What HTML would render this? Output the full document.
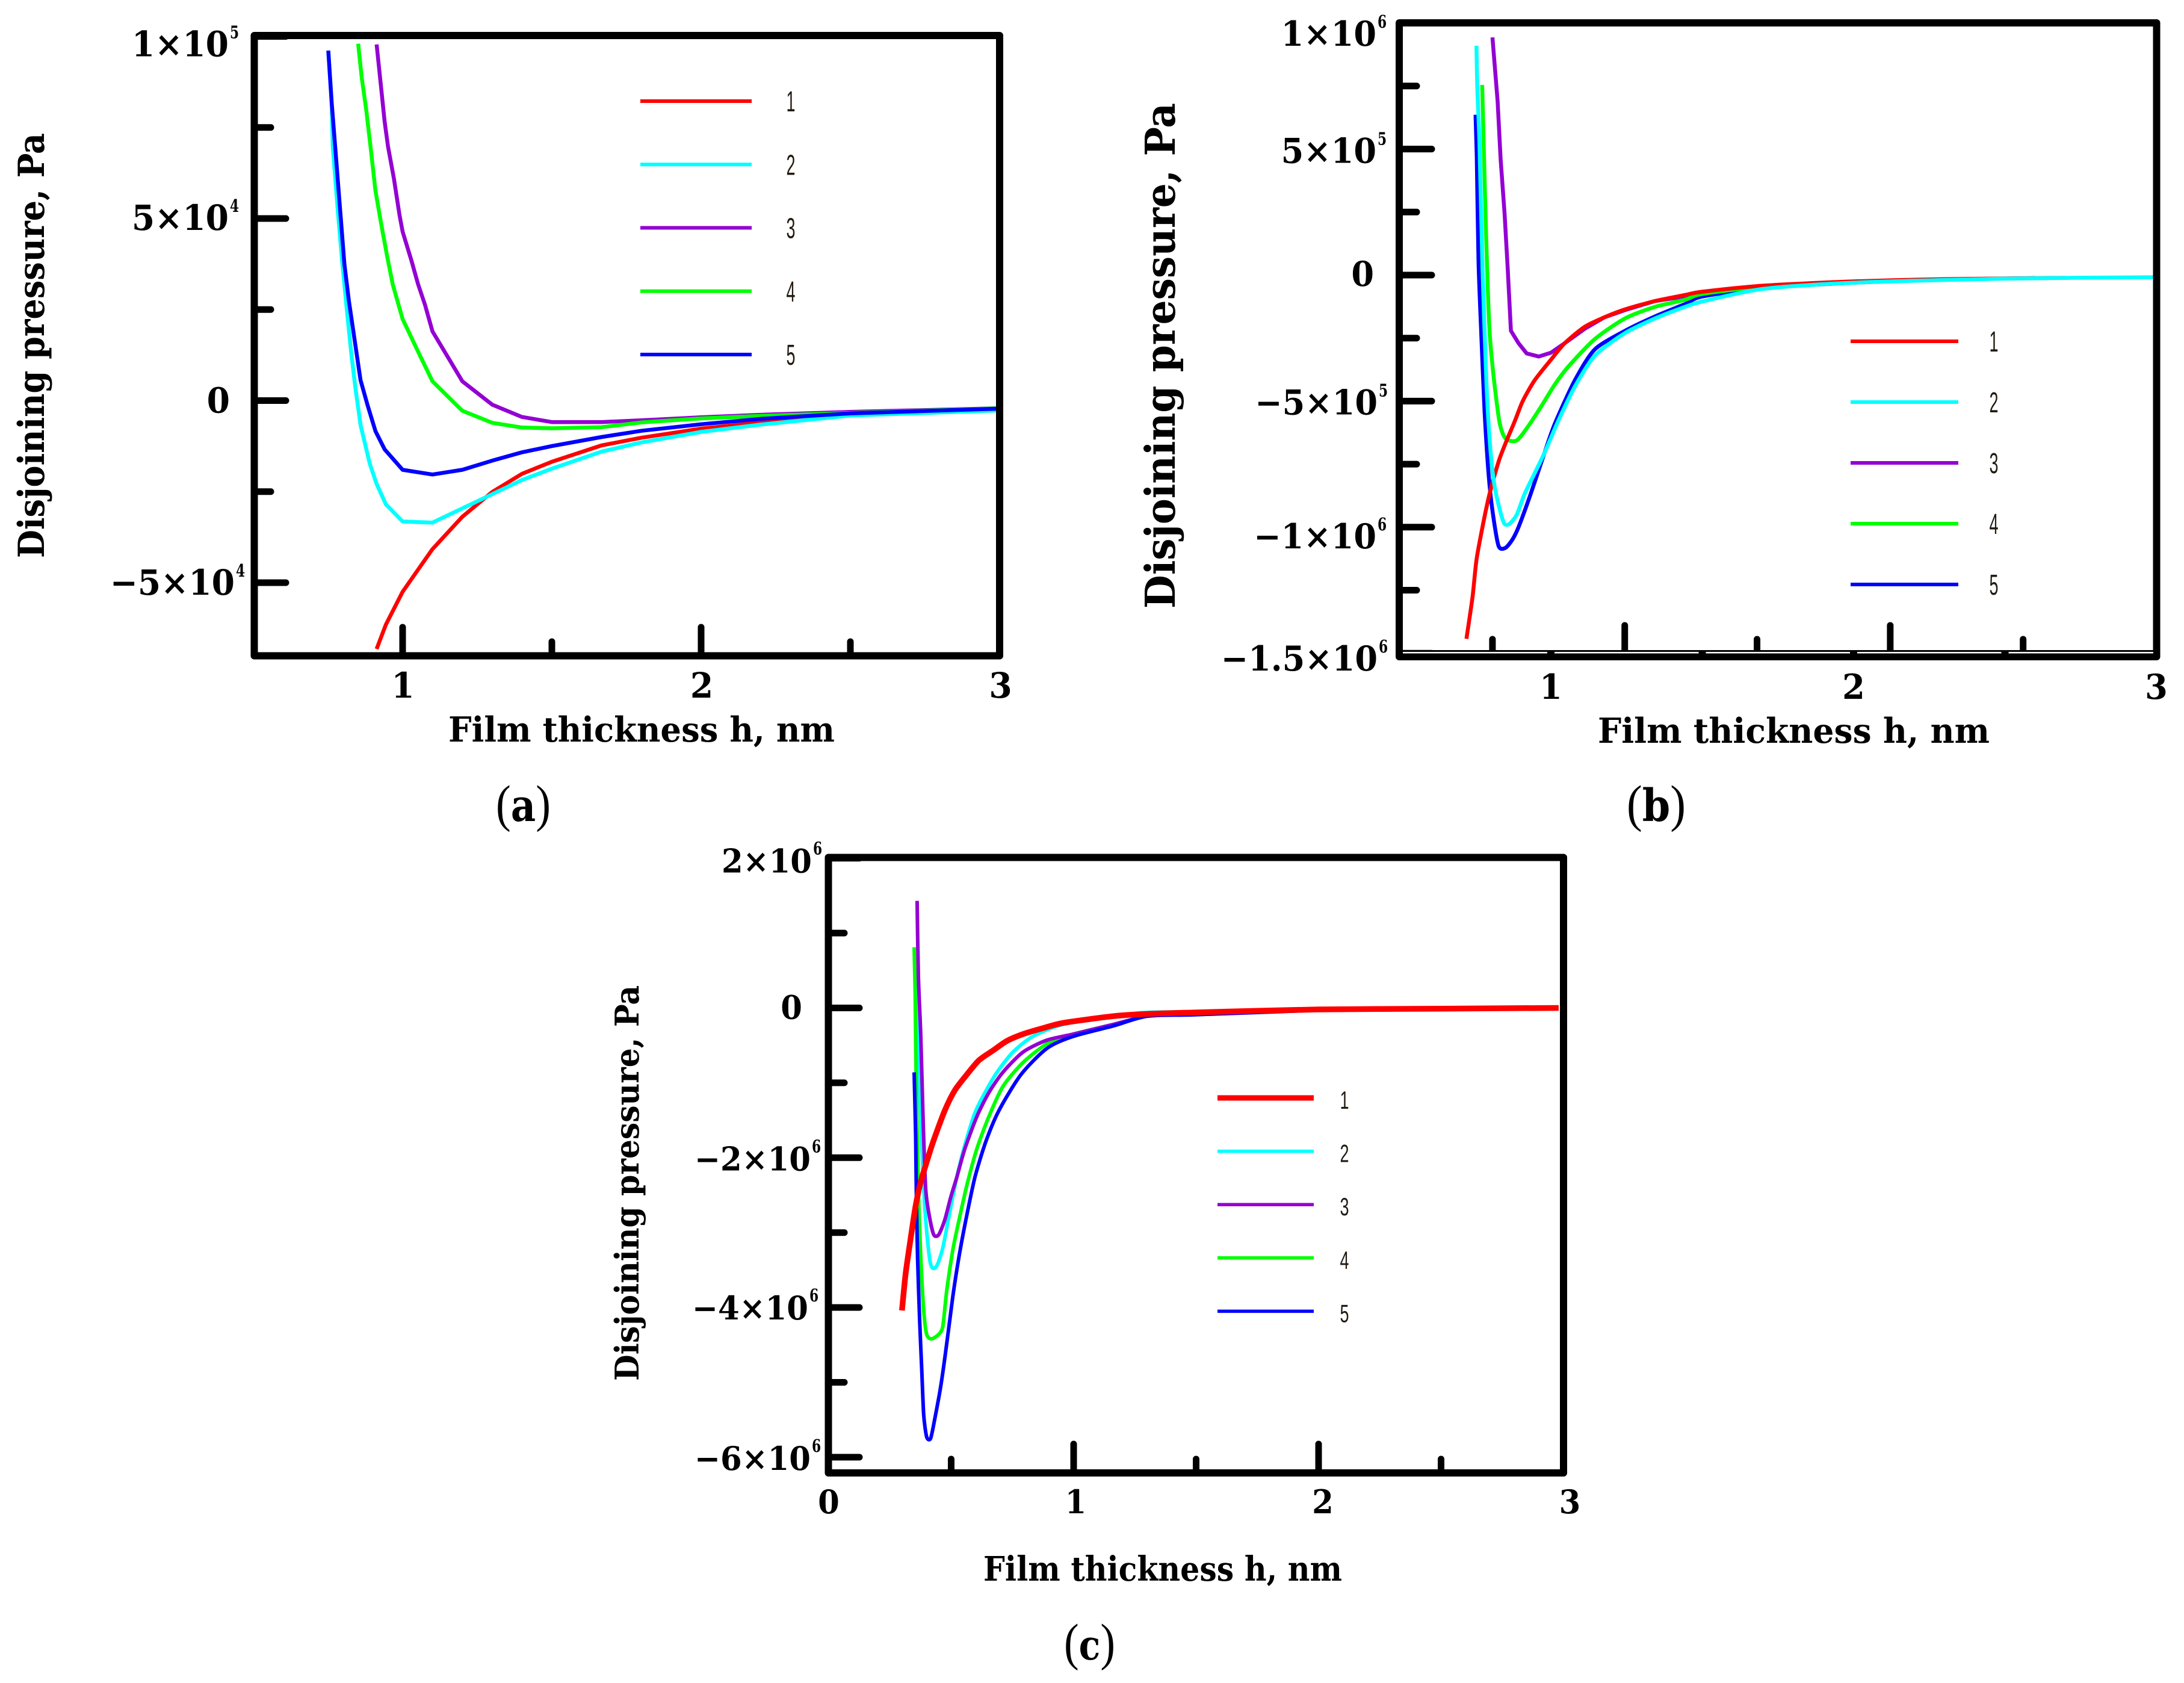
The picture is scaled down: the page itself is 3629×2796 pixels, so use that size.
<!DOCTYPE html>
<html lang="en">
<head>
<meta charset="utf-8">
<title>Disjoining pressure vs film thickness</title>
<style>
html,body{margin:0;padding:0;background:#fff;}
svg{display:block;}
text{font-family:"DejaVu Serif","Liberation Serif",serif;font-weight:bold;fill:#000;}
.cap{font-family:"Liberation Serif",serif;font-weight:normal;}
.cap tspan{font-weight:bold;font-family:"DejaVu Serif",serif;}
</style>
</head>
<body>
<svg id="figure" xmlns="http://www.w3.org/2000/svg" width="3629" height="2796" viewBox="0 0 3629 2796">
<rect width="3629" height="2796" fill="#fff"/>

<g id="panel-a">
  <text x="745" y="1232" font-size="57" textLength="642" lengthAdjust="spacingAndGlyphs">Film thickness h, nm</text>
  <text transform="translate(73,927) rotate(-90)" font-size="60" textLength="706" lengthAdjust="spacingAndGlyphs">Disjoining pressure, Pa</text>
  <text class="cap" x="824" y="1364" font-size="86" textLength="91" lengthAdjust="spacingAndGlyphs">(<tspan font-size="74">a</tspan>)</text>
</g>
<g id="panel-b">
  <text x="2655" y="1234" font-size="57" textLength="651" lengthAdjust="spacingAndGlyphs">Film thickness h, nm</text>
  <text transform="translate(1952,1011) rotate(-90)" font-size="68" textLength="840" lengthAdjust="spacingAndGlyphs">Disjoining pressure, Pa</text>
  <text class="cap" x="2703" y="1364" font-size="86" textLength="98" lengthAdjust="spacingAndGlyphs">(<tspan font-size="74">b</tspan>)</text>
</g>
<g id="panel-c">
  <text x="1634" y="2626" font-size="56" textLength="596" lengthAdjust="spacingAndGlyphs">Film thickness h, nm</text>
  <text transform="translate(1061,2294) rotate(-90)" font-size="54" textLength="657" lengthAdjust="spacingAndGlyphs">Disjoining pressure, Pa</text>
  <text class="cap" x="1768" y="2757" font-size="86" textLength="85" lengthAdjust="spacingAndGlyphs">(<tspan font-size="68">c</tspan>)</text>
</g>
</svg>

<script>
/* ---------- Panel (a): values in units of 1e3 Pa ---------- */
const aUnit = 1e3;
const aH1 = [0.913,0.944,1,1.052,1.1,1.2,1.3,1.4,1.5,1.667,1.8,2,2.2,2.5,3];
const aV1 = [-68.2,-61.5,-52.5,-46.4,-40.8,-31.9,-25.1,-20.1,-16.8,-12.3,-10.2,-7.7,-6,-4,-2.2];
const aH2 = [0.751,0.762,0.766,0.782,0.797,0.813,0.828,0.843,0.859,0.89,0.913,0.944,1,1.1,1.2,1.3,1.4,1.5,1.667,1.8,2,2.2,2.5,3];
const aV2 = [96.1,82.1,69.8,53,38.6,25.1,12.9,2.8,-6.7,-17.3,-22.9,-28.5,-33.2,-33.5,-29.6,-25.7,-21.8,-18.7,-14,-11.5,-8.6,-6.6,-4.1,-2.7];
const aH3 = [0.913,0.94,0.951,0.971,0.99,1,1.029,1.052,1.075,1.1,1.2,1.3,1.4,1.5,1.667,1.8,2,2.2,2.5,3];
const aV3 = [97.8,76.5,69.8,60.9,50.8,46.4,38.6,31.9,26.3,19,5.3,-1.1,-4.5,-5.9,-5.9,-5.4,-4.6,-3.9,-3.1,-2.1];
const aH4 = [0.851,0.863,0.878,0.894,0.909,0.928,0.948,0.967,1,1.052,1.1,1.2,1.3,1.4,1.5,1.667,1.8,2,2.2,2.5,3];
const aV4 = [98,88.8,79.9,68.7,57.6,48.6,39.7,31.9,22.4,13.4,5.3,-2.8,-6.1,-7.4,-7.6,-7.3,-6,-4.9,-4.2,-3.4,-2.1];
const aH5 = [0.751,0.762,0.774,0.789,0.805,0.82,0.836,0.859,0.882,0.909,0.94,1,1.1,1.2,1.3,1.4,1.5,1.667,1.8,2,2.2,2.5,3];
const aV5 = [96.1,82.1,69.8,54.2,37.4,27.4,18.4,5.6,-1.1,-8.4,-13.4,-19,-20.3,-19,-16.5,-14.2,-12.5,-10,-8.3,-6.5,-5,-3.5,-2.2];
const aYMajor = [100000,50000,0,-50000];
const aYMinor = [75000,25000,-25000];
const aYCoef = ['1×10','5×10','0','−5×10'];
const aYExp = ['5','4','','4'];
const aXMajor = [1,2];
const aXMinor = [1.5,2.5];
const aXLabels = [1,2,3];

/* ---------- Panel (b): values in units of 1e5 Pa ---------- */
const bUnit = 1e5;
const bH1 = [0.721,0.741,0.754,0.774,0.794,0.81,0.83,0.854,0.88,0.907,0.946,1,1.046,1.112,1.178,1.245,1.344,1.443,1.5,1.7,2,2.3,2.7];
const bV1 = [-14.43,-12.79,-11.31,-10,-8.85,-8.11,-7.3,-6.56,-5.82,-5,-4.18,-3.36,-2.7,-2.05,-1.67,-1.36,-1.03,-0.79,-0.66,-0.42,-0.25,-0.16,-0.11];
const bH2 = [0.754,0.757,0.764,0.774,0.787,0.8,0.814,0.834,0.847,0.863,0.887,0.913,0.946,0.979,1.026,1.079,1.145,1.245,1.344,1.443,1.5,1.7,2,2.5,3];
const bV2 = [9.1,7.38,5.25,0.33,-4.26,-6.89,-8.36,-9.43,-9.87,-9.87,-9.51,-8.69,-7.87,-7.05,-5.74,-4.43,-3.2,-2.3,-1.72,-1.26,-1.05,-0.55,-0.3,-0.14,-0.085];
const bH3 = [0.807,0.824,0.834,0.847,0.857,0.868,0.893,0.92,0.96,1,1.046,1.112,1.178,1.245,1.344,1.443,1.5,1.7,2,2.3,2.6];
const bV3 = [9.43,6.89,4.59,2.46,0.33,-2.21,-2.7,-3.11,-3.23,-3.08,-2.7,-2.13,-1.67,-1.39,-1.03,-0.85,-0.7,-0.45,-0.27,-0.17,-0.12];
const bH4 = [0.773,0.779,0.787,0.797,0.81,0.83,0.85,0.887,0.926,0.966,1.013,1.059,1.145,1.245,1.344,1.443,1.5,1.7,2,2.3];
const bV4 = [7.54,4.75,1.15,-2.13,-3.93,-5.82,-6.48,-6.56,-5.98,-5.25,-4.34,-3.61,-2.54,-1.72,-1.26,-0.98,-0.75,-0.47,-0.28,-0.17];
const bH5 = [0.751,0.755,0.761,0.771,0.781,0.794,0.807,0.827,0.85,0.873,0.893,0.933,0.979,1.013,1.079,1.145,1.245,1.344,1.443,1.5,1.7,2,2.3];
const bV5 = [6.36,4.75,0.49,-2.62,-5.41,-7.87,-9.34,-10.74,-10.82,-10.49,-10,-8.69,-7.05,-5.9,-4.18,-2.95,-2.21,-1.64,-1.15,-0.85,-0.52,-0.3,-0.18];
const bYMajor = [1000000,500000,0,-500000,-1000000,-1500000];
const bYMinor = [750000,250000,-250000,-750000,-1250000];
const bYCoef = ['1×10','5×10','0','−5×10','−1×10','−1.5×10'];
const bYExp = ['6','5','','5','6','6'];
const bXMajor = [1.244,2.121];
const bXMinor = [0.807,1.681,2.56];
const bXNubs = [1,1.5,2,2.5];
const bXLabels = [1,2,3];

/* ---------- Panel (c): values in units of 1e6 Pa ---------- */
const cUnit = 1e6;
const cH1 = [0.299,0.314,0.335,0.355,0.376,0.396,0.425,0.474,0.515,0.564,0.613,0.67,0.728,0.793,0.875,0.957,1.162,1.3,1.5,2,2.5,2.98];
const cV1 = [-4.04,-3.55,-3.07,-2.64,-2.32,-2.1,-1.8,-1.37,-1.1,-0.89,-0.7,-0.57,-0.44,-0.35,-0.27,-0.2,-0.11,-0.08,-0.06,-0.02,-0.01,0];
const cH2 = [0.359,0.367,0.38,0.392,0.404,0.416,0.429,0.445,0.466,0.49,0.523,0.556,0.597,0.638,0.687,0.752,0.834,0.957,1.162,1.3,1.5,2,2.3];
const cV2 = [0.54,-0.65,-1.83,-2.64,-3.12,-3.42,-3.48,-3.42,-3.2,-2.8,-2.26,-1.83,-1.4,-1.13,-0.86,-0.59,-0.38,-0.22,-0.11,-0.06,-0.05,-0.02,-0.01];
const cH3 = [0.361,0.366,0.376,0.385,0.396,0.412,0.429,0.449,0.474,0.498,0.523,0.556,0.605,0.654,0.711,0.793,0.891,0.998,1.162,1.3,1.5,2];
const cV3 = [1.43,0.43,-0.38,-1.45,-2.42,-2.8,-3.03,-3.03,-2.83,-2.53,-2.26,-1.88,-1.45,-1.13,-0.86,-0.59,-0.43,-0.35,-0.22,-0.11,-0.07,-0.02];
const cH4 = [0.349,0.353,0.358,0.367,0.376,0.388,0.4,0.42,0.449,0.466,0.482,0.507,0.531,0.564,0.605,0.654,0.711,0.793,0.891,0.998,1.162,1.3,1.5,2];
const cV4 = [0.81,0.16,-1.18,-2.53,-3.34,-4.04,-4.36,-4.42,-4.36,-4.25,-3.77,-3.23,-2.85,-2.37,-1.88,-1.45,-1.05,-0.73,-0.48,-0.35,-0.22,-0.11,-0.08,-0.03];
const cH5 = [0.349,0.355,0.358,0.363,0.371,0.38,0.388,0.4,0.416,0.433,0.457,0.478,0.507,0.531,0.56,0.597,0.642,0.695,0.785,0.891,0.998,1.162,1.3,1.5,2];
const cV5 = [-0.86,-1.72,-2.53,-3.34,-4.15,-4.85,-5.44,-5.73,-5.75,-5.49,-5.06,-4.58,-3.85,-3.34,-2.83,-2.26,-1.78,-1.37,-0.89,-0.54,-0.38,-0.24,-0.11,-0.09,-0.03];
const cYMajor = [2000000,0,-2000000,-4000000,-6000000];
const cYMinor = [1000000,-1000000,-3000000,-5000000];
const cYCoef = ['2×10','0','−2×10','−4×10','−6×10'];
const cYExp = ['6','','6','6','6'];
const cXMajor = [1,2];
const cXMinor = [0.5,1.5,2.5];
const cXLabels = [0,1,2,3];

const seriesLabels = ['1','2','3','4','5'];
const seriesColors = {'1':'#ff0000','2':'#00ffff','3':'#9400d3','4':'#00ff00','5':'#0000ff'};

const NS = 'http://www.w3.org/2000/svg';
function linear(d0, d1, r0, r1) {
  return function (v) { return r0 + (v - d0) * (r1 - r0) / (d1 - d0); };
}
function make(tag, attrs, parent) {
  const el = document.createElementNS(NS, tag);
  for (const k in attrs) el.setAttribute(k, attrs[k]);
  parent.appendChild(el);
  return el;
}
function drawLine(parent, name, x1, y1, x2, y2, width, color, cap) {
  const el = make('line', {x1: x1, y1: y1, x2: x2, y2: y2, stroke: color, 'stroke-width': width, 'stroke-linecap': cap}, parent);
  
  
  return el;
}
function drawLabel(parent, name, str, x, y, size, sx, anchor) {
  const el = make('text', {transform: 'translate(' + x + ',' + y + ') scale(' + sx + ',1)', 'font-size': size, 'text-anchor': anchor}, parent);
  el.textContent = str;
  
  
  return el;
}
/* Polyline for piecewise data, Catmull-Rom through the same data points for smooth traces */
function curvePath(pts, smooth) {
  let d = 'M' + pts[0][0].toFixed(1) + ' ' + pts[0][1].toFixed(1);
  for (let i = 0; i < pts.length - 1; i++) {
    const p1 = pts[i], p2 = pts[i + 1];
    if (!smooth) {
      d += 'L' + p2[0].toFixed(1) + ' ' + p2[1].toFixed(1);
      continue;
    }
    const p0 = pts[Math.max(i - 1, 0)], p3 = pts[Math.min(i + 2, pts.length - 1)];
    const c1x = p1[0] + (p2[0] - p0[0]) / 8, c1y = p1[1] + (p2[1] - p0[1]) / 8;
    const c2x = p2[0] - (p3[0] - p1[0]) / 8, c2y = p2[1] - (p3[1] - p1[1]) / 8;
    d += 'C' + c1x.toFixed(1) + ' ' + c1y.toFixed(1) + ' ' + c2x.toFixed(1) + ' ' + c2y.toFixed(1) + ' ' + p2[0].toFixed(1) + ' ' + p2[1].toFixed(1);
  }
  return d;
}

function drawPanel(p) {
  const g = document.getElementById(p.id);
  const x = p.x, y = p.y;
  /* curves */
  p.series.forEach(function (s) {
    const pts = s.h.map(function (h, i) { return [x(h), y(s.v[i] * p.unit)]; });
    const line = make('path', {d: curvePath(pts, s.smooth), fill: 'none', stroke: seriesColors[s.label], 'stroke-width': s.width, 'stroke-linejoin': 'round', 'stroke-linecap': 'butt'}, g);
    
    
  });
  /* frame */
  const frame = make('rect', {x: p.box[0], y: p.box[1], width: p.box[2] - p.box[0], height: p.box[3] - p.box[1], fill: 'none', stroke: '#000', 'stroke-width': p.boxW, 'stroke-linejoin': 'round'}, g);
  
  
  /* y ticks */
  const yBase = p.box[0] + 5;
  p.yMajor.forEach(function (v) {
    drawLine(g, p.id + '-y-major-tick', yBase, y(v), p.yMajorEnd, y(v), p.tickW, '#000', 'round');
  });
  p.yMinor.forEach(function (v) {
    drawLine(g, p.id + '-y-minor-tick', yBase, y(v), p.yMinorEnd, y(v), p.tickW, '#000', 'round');
  });
  /* x ticks */
  const xBase = p.box[3] - 5;
  p.xMajor.forEach(function (h) {
    drawLine(g, p.id + '-x-major-tick', x(h), xBase, x(h), p.xMajorTop, p.tickW, '#000', 'round');
  });
  p.xMinor.forEach(function (h) {
    drawLine(g, p.id + '-x-minor-tick', x(h), xBase, x(h), p.xMinorTop, p.tickW, '#000', 'round');
  });
  /* y labels */
  p.yMajor.forEach(function (v, i) {
    const base = y(v) + p.yNudge[i];
    const right = p.labelRight + p.labelShift[i];
    drawLabel(g, p.id + '-y-tick-label', p.yCoef[i], p.yExp[i] ? right : p.zeroRight, base, p.labelSize, 0.95, 'end');
    if (p.yExp[i]) {
      drawLabel(g, p.id + '-y-tick-exponent', p.yExp[i], right + 2, base - 30, 29, 0.75, 'start');
    }
  });
  /* x labels */
  p.xLabels.forEach(function (h) {
    drawLabel(g, p.id + '-x-tick-label', String(h), x(h) + h * p.xLabelDrift, p.xLabelY, p.labelSize, 0.95, 'middle');
  });
  /* legend */
  seriesLabels.forEach(function (lab, i) {
    const ly = p.legend.y + i * p.legend.step;
    const w = (lab === '1' ? p.legend.firstW : p.legend.w);
    drawLine(g, p.id + '-legend-line-' + lab, p.legend.x1, ly, p.legend.x2, ly, w, seriesColors[lab], 'butt');
    const t = make('text', {x: p.legend.tx, y: ly + p.legend.dy, 'font-size': p.legend.size, 'text-anchor': 'middle', textLength: 15, lengthAdjust: 'spacingAndGlyphs', style: 'font-family:"Liberation Sans",sans-serif;font-weight:normal;fill:#221a10'}, g);
    t.textContent = lab;
    
    
  });
}

drawPanel({
  id: 'panel-a', unit: aUnit,
  x: linear(1, 3, 669, 1661), y: linear(0, 50000, 665.5, 363),
  box: [422.5, 59, 1661, 1089.5], boxW: 12, tickW: 11,
  series: [
    {label: '1', h: aH1, v: aV1, width: 6.5, smooth: false},
    {label: '2', h: aH2, v: aV2, width: 6.5, smooth: false},
    {label: '3', h: aH3, v: aV3, width: 6.5, smooth: false},
    {label: '4', h: aH4, v: aV4, width: 6.5, smooth: false},
    {label: '5', h: aH5, v: aV5, width: 6.5, smooth: false}
  ],
  yMajor: aYMajor, yMinor: aYMinor, yCoef: aYCoef, yExp: aYExp,
  xMajor: aXMajor, xMinor: aXMinor, xLabels: aXLabels,
  yMajorEnd: 475, yMinorEnd: 450, xMajorTop: 1042, xMinorTop: 1066,
  yNudge: [33, 19, 20, 20], labelRight: 380, labelShift: [0, 0, 0, 10], zeroRight: 382,
  labelSize: 58, xLabelY: 1159, xLabelDrift: 0.5,
  legend: {x1: 1064, x2: 1249, y: 168, step: 105.25, w: 6, firstW: 6, tx: 1314, dy: 17, size: 48}
});

drawPanel({
  id: 'panel-b', unit: bUnit,
  x: linear(1, 3, 2577, 3583), y: linear(0, 500000, 457, 247.6),
  box: [2325, 38, 3583.5, 1091], boxW: 12, tickW: 11,
  series: [
    {label: '3', h: bH3, v: bV3, width: 6.5, smooth: false},
    {label: '5', h: bH5, v: bV5, width: 6.5, smooth: true},
    {label: '4', h: bH4, v: bV4, width: 6.5, smooth: true},
    {label: '1', h: bH1, v: bV1, width: 6.5, smooth: true},
    {label: '2', h: bH2, v: bV2, width: 6.5, smooth: true}
  ],
  yMajor: bYMajor, yMinor: bYMinor, yCoef: bYCoef, yExp: bYExp,
  xMajor: bXMajor, xMinor: bXMinor, xLabels: bXLabels,
  yMajorEnd: 2379, yMinorEnd: 2354, xMajorTop: 1039, xMinorTop: 1062,
  yNudge: [38, 23, 18, 22, 35, 29], labelRight: 2287, labelShift: [0, 0, 0, 2, 0, 2], zeroRight: 2283,
  labelSize: 57, xLabelY: 1161, xLabelDrift: 0,
  legend: {x1: 3075, x2: 3254, y: 567, step: 101, w: 6, firstW: 6, tx: 3313, dy: 17, size: 48}
});
(function () {
  const g = document.getElementById('panel-b');
  const x = linear(1, 3, 2577, 3583);
  const y = linear(0, 500000, 457, 247.6);
  const thin = drawLine(g, 'panel-b-lower-axis-line', 2325, y(-1500000) - 3.5, 3583, y(-1500000) - 3.5, 3, '#000', 'butt');
  thin.setAttribute('shape-rendering', 'crispEdges');
  const white = drawLine(g, 'panel-b-axis-gap', 2331, y(-1500000) - 1, 3578, y(-1500000) - 1, 2.5, '#fff', 'butt');
  white.setAttribute('shape-rendering', 'crispEdges');
  bXNubs.forEach(function (h) {
    drawLine(g, 'panel-b-x-nub-tick', x(h), y(-1500000) + 2, x(h), y(-1500000) - 3, 12, '#000', 'butt');
  });
})();

drawPanel({
  id: 'panel-c', unit: cUnit,
  x: linear(0, 3, 1377, 2598), y: linear(0, 1000000, 1674.5, 1550.1),
  box: [1376.5, 1424.5, 2598, 2447], boxW: 12, tickW: 11,
  series: [
    {label: '2', h: cH2, v: cV2, width: 6, smooth: true},
    {label: '4', h: cH4, v: cV4, width: 6, smooth: true},
    {label: '3', h: cH3, v: cV3, width: 6, smooth: true},
    {label: '5', h: cH5, v: cV5, width: 6, smooth: true},
    {label: '1', h: cH1, v: cV1, width: 9.5, smooth: true}
  ],
  yMajor: cYMajor, yMinor: cYMinor, yCoef: cYCoef, yExp: cYExp,
  xMajor: cXMajor, xMinor: cXMinor, xLabels: cXLabels,
  yMajorEnd: 1428, yMinorEnd: 1403, xMajorTop: 2399, xMinorTop: 2424,
  yNudge: [24, 18, 21, 20, 21], labelRight: 1347, labelShift: [2, 0, 0, -4, 0], zeroRight: 1333,
  labelSize: 54, xLabelY: 2514, xLabelDrift: 3.5,
  legend: {x1: 2023, x2: 2183, y: 1824, step: 88.6, w: 5.5, firstW: 9, tx: 2234, dy: 18, size: 42}
});
</script>
</body>
</html>
